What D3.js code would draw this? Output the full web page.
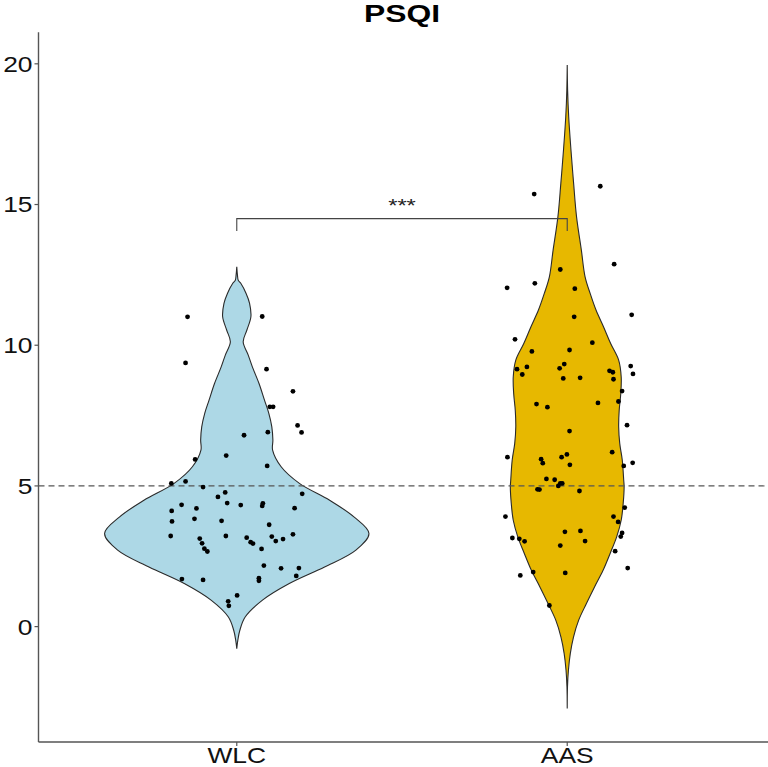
<!DOCTYPE html>
<html>
<head>
<meta charset="utf-8">
<script src="https://cdn.jsdelivr.net/npm/d3@7"></script>
<style>
  html, body { margin: 0; padding: 0; background: #fff; }
  svg { display: block; }
  text { font-family: "Liberation Sans", Arial, Helvetica, sans-serif; }
</style>
</head>
<body>
<svg id="chart" width="768" height="767"></svg>
<script>
// ---------------- data ----------------
const title = "PSQI";
const categories = ["WLC", "AAS"];
const fillColors = ["#ADD8E6", "#E7B800"];
const yTicks = [0, 5, 10, 15, 20];
const yDomain = [-4.1, 21.12];
const referenceValue = 5;
const signifLabel = "***";
const signifY = 14.5;
const signifTip = 0.44;

// violin outlines (value, relative density)
const wlcViolinValue = [12.79, 12.5, 12.31, 12.2, 11.84, 11.49, 11.01, 10.54, 10.12, 9.65, 9.23, 8.64, 8.05, 7.59, 7.1, 6.63, 6.27, 5.68, 5.09, 4.49, 3.9, 3.31, 2.72, 2.12, 1.53, 0.94, 0.34, -0.13, -0.48, -0.78];
const wlcViolinDensity = [0, 0.005, 0.011, 0.03, 0.07, 0.096, 0.106, 0.076, 0.048, 0.086, 0.117, 0.167, 0.208, 0.24, 0.263, 0.271, 0.269, 0.333, 0.47, 0.697, 0.879, 0.992, 0.894, 0.659, 0.394, 0.193, 0.063, 0.023, 0.008, 0];
const aasViolinValue = [19.96, 19.06, 18.12, 16.94, 15.75, 14.56, 13.38, 12.43, 11.84, 11.25, 10.65, 10.06, 9.47, 8.88, 8.29, 7.69, 7.10, 6.51, 5.92, 5.20, 4.97, 4.38, 3.78, 3.19, 2.60, 2.00, 1.41, 0.82, 0.23, -0.37, -0.96, -1.55, -2.14, -2.91];
const aasViolinDensity = [0, 0.003, 0.011, 0.028, 0.048, 0.070, 0.106, 0.134, 0.172, 0.216, 0.273, 0.326, 0.386, 0.405, 0.402, 0.390, 0.386, 0.394, 0.413, 0.424, 0.427, 0.420, 0.405, 0.371, 0.322, 0.269, 0.205, 0.144, 0.086, 0.047, 0.023, 0.009, 0.002, 0];

// jittered points (value, horizontal jitter in category units)
const wlcValues = [11.01, 11.02, 9.37, 9.15, 8.36, 7.81, 7.81, 7.15, 6.90, 6.91, 6.80, 6.08, 5.94, 5.71, 5.09, 5.16, 4.96, 4.77, 4.61, 4.72, 4.33, 4.39, 4.32, 4.38, 4.29, 4.11, 4.20, 4.21, 3.74, 3.83, 3.76, 3.62, 3.22, 3.22, 3.13, 2.96, 2.77, 2.67, 3.16, 3.00, 2.95, 3.20, 3.04, 3.11, 3.28, 2.76, 2.17, 2.07, 2.08, 1.80, 1.69, 1.66, 1.72, 1.63, 1.11, 0.90, 0.74];
const wlcJitter = [-0.149, 0.077, -0.155, 0.090, 0.170, 0.100, 0.110, 0.184, 0.196, 0.094, 0.022, -0.032, -0.126, 0.092, -0.198, -0.155, -0.102, -0.035, -0.057, 0.198, -0.167, -0.029, 0.012, 0.079, 0.077, -0.197, -0.122, 0.175, -0.196, -0.128, -0.046, 0.098, -0.200, -0.033, -0.112, -0.105, -0.098, -0.089, 0.030, 0.042, 0.049, 0.106, 0.118, 0.140, 0.170, 0.075, 0.082, 0.134, 0.188, 0.180, -0.166, -0.102, 0.067, 0.067, 0.001, -0.026, -0.024];
const aasValues = [15.37, 15.65, 12.88, 12.69, 12.04, 12.20, 12.01, 11.08, 11.01, 10.21, 10.09, 9.78, 9.83, 9.15, 9.23, 8.96, 9.33, 9.18, 8.82, 8.84, 9.09, 9.04, 8.79, 9.26, 8.98, 8.37, 8.00, 7.91, 7.80, 7.95, 7.16, 6.95, 6.02, 5.95, 5.81, 6.02, 6.12, 5.75, 6.20, 5.71, 5.82, 5.25, 5.22, 5.09, 5.09, 5.00, 4.88, 4.87, 4.82, 3.91, 4.23, 3.91, 3.72, 3.37, 3.40, 3.15, 3.12, 3.03, 3.04, 2.88, 3.33, 3.20, 2.68, 2.08, 1.82, 1.94, 1.91, 0.75];
const aasJitter = [-0.100, 0.100, 0.142, -0.021, -0.182, -0.098, 0.023, 0.195, 0.021, -0.158, 0.076, -0.107, 0.007, -0.152, -0.122, -0.136, -0.009, -0.023, -0.012, 0.039, 0.128, 0.138, 0.140, 0.192, 0.199, 0.166, 0.155, -0.093, -0.060, 0.093, 0.181, 0.007, -0.181, -0.079, -0.074, -0.017, -0.001, 0.008, 0.136, 0.171, 0.198, -0.063, -0.038, -0.021, -0.015, -0.027, -0.090, -0.084, 0.037, -0.187, 0.174, 0.140, 0.154, -0.007, 0.040, -0.166, -0.145, -0.129, 0.054, -0.021, 0.166, 0.162, 0.145, 0.183, -0.142, -0.103, -0.006, -0.054];

// ---------------- layout ----------------
const svg = d3.select("#chart");
const panel = { left: 38.5, right: 765.5, top: 32.3, bottom: 742 };
const textStretch = 1.2;

const x = d3.scalePoint().domain(categories).range([panel.left, panel.right]).padding(0.6);
const y = d3.scaleLinear().domain(yDomain).range([panel.bottom, panel.top]);
const step = x.step();

const violins = [
  { cat: categories[0], fill: fillColors[0], v: wlcViolinValue, d: wlcViolinDensity },
  { cat: categories[1], fill: fillColors[1], v: aasViolinValue, d: aasViolinDensity }
];
const maxDens = d3.max(violins, g => d3.max(g.d));
const w = d3.scaleLinear().domain([0, maxDens]).range([0, 0.4 * step]);

// violins
violins.forEach(g => {
  const pts = g.v.map((v, i) => ({ v, d: g.d[i] }));
  const cx = x(g.cat);
  const area = d3.area()
    .y(p => y(p.v))
    .x0(p => cx - w(p.d))
    .x1(p => cx + w(p.d))
    .curve(d3.curveCatmullRom.alpha(0.5));
  svg.append("path")
    .attr("d", area(pts))
    .attr("fill", g.fill)
    .attr("stroke", "#2a2a2a")
    .attr("stroke-width", 1.1);
});

// reference dashed line
svg.append("line")
  .attr("x1", panel.left).attr("x2", panel.right)
  .attr("y1", y(referenceValue)).attr("y2", y(referenceValue))
  .attr("stroke", "#555").attr("stroke-width", 1.1)
  .attr("stroke-dasharray", "6,4");

// points
const pointSets = [
  { cat: categories[0], vals: wlcValues, jit: wlcJitter },
  { cat: categories[1], vals: aasValues, jit: aasJitter }
];
pointSets.forEach(s => {
  svg.append("g").selectAll("circle")
    .data(s.vals.map((v, i) => ({ v, j: s.jit[i] })))
    .join("circle")
    .attr("cx", d => x(s.cat) + d.j * step)
    .attr("cy", d => y(d.v))
    .attr("r", 2.4)
    .attr("fill", "#000");
});

// significance bracket
const bx1 = x(categories[0]), bx2 = x(categories[1]);
svg.append("path")
  .attr("d", d3.line()([[bx1, y(signifY - signifTip)], [bx1, y(signifY)], [bx2, y(signifY)], [bx2, y(signifY - signifTip)]]))
  .attr("fill", "none").attr("stroke", "#444").attr("stroke-width", 1.1);
svg.append("text")
  .attr("transform", `translate(${(bx1 + bx2) / 2},${y(signifY) - 7}) scale(1.25,1)`)
  .attr("text-anchor", "middle")
  .attr("font-size", 19)
  .attr("fill", "#222")
  .text(signifLabel);

// axes lines
const axisColor = "#555";
svg.append("line").attr("x1", panel.left).attr("x2", panel.left)
  .attr("y1", panel.top).attr("y2", panel.bottom)
  .attr("stroke", axisColor).attr("stroke-width", 1.4);
svg.append("line").attr("x1", panel.left).attr("x2", 768)
  .attr("y1", panel.bottom).attr("y2", panel.bottom)
  .attr("stroke", axisColor).attr("stroke-width", 1.4);

// y ticks
const yt = svg.append("g");
yTicks.forEach(t => {
  yt.append("line").attr("x1", panel.left - 4).attr("x2", panel.left)
    .attr("y1", y(t)).attr("y2", y(t)).attr("stroke", axisColor).attr("stroke-width", 1.2);
  yt.append("text")
    .attr("transform", `translate(${panel.left - 6},${y(t)}) scale(${textStretch},1)`)
    .attr("text-anchor", "end")
    .attr("dy", "0.36em")
    .attr("font-size", 22)
    .attr("fill", "#111")
    .text(t);
});

// x ticks
categories.forEach(c => {
  svg.append("line").attr("x1", x(c)).attr("x2", x(c))
    .attr("y1", panel.bottom).attr("y2", panel.bottom + 4)
    .attr("stroke", axisColor).attr("stroke-width", 1.2);
  svg.append("text")
    .attr("transform", `translate(${x(c)},763) scale(${textStretch},1)`)
    .attr("text-anchor", "middle")
    .attr("font-size", 22)
    .attr("fill", "#111")
    .text(c);
});

// title
svg.append("text")
  .attr("transform", `translate(402,21.7) scale(1.3,1)`)
  .attr("text-anchor", "middle")
  .attr("font-size", 24.5)
  .attr("font-weight", "bold")
  .attr("fill", "#000")
  .text(title);
</script>
</body>
</html>
